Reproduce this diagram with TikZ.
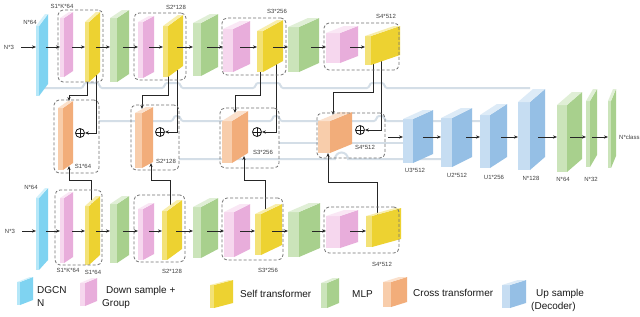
\documentclass[tikz,border=0pt]{standalone}
\usepackage{fontspec}
\setmainfont{Liberation Sans}
\usetikzlibrary{arrows.meta}
\definecolor{cyaL}{HTML}{B5E7F8}\definecolor{cyaM}{HTML}{7FD3F1}
\definecolor{pnkL}{HTML}{F6D7EE}\definecolor{pnkM}{HTML}{E8ADDB}
\definecolor{yelL}{HTML}{F3E277}\definecolor{yelM}{HTML}{EDD231}
\definecolor{grnL}{HTML}{CBE4BA}\definecolor{grnM}{HTML}{A8D08D}
\definecolor{orgL}{HTML}{F8CDAB}\definecolor{orgM}{HTML}{F2AD7A}
\definecolor{bluL}{HTML}{C6DDF2}\definecolor{bluM}{HTML}{95BFE5}
\colorlet{cyaT}{cyaL!60!white}\colorlet{pnkT}{pnkL!60!white}
\colorlet{yelT}{yelL!60!white}\colorlet{grnT}{grnL!60!white}
\colorlet{orgT}{orgL!60!white}\colorlet{bluT}{bluL!60!white}
\definecolor{skipc}{HTML}{D4DEE7}
% name, x0, front width, depth, rise, top y, bottom y, colour family
\newcommand{\blk}[8]{%
  \fill[#8L] (#2,#6) rectangle (#2+#3,#7);
  \fill[#8M] (#2+#3,#6) -- (#2+#3+#4,#6-#5) -- (#2+#3+#4,#7-#5) -- (#2+#3,#7) -- cycle;
  \fill[#8T] (#2,#6) -- (#2+#4,#6-#5) -- (#2+#3+#4,#6-#5) -- (#2+#3,#6) -- cycle;
  \node[inner sep=0pt,outer sep=0pt,minimum width={(#3+#4)*1pt},minimum height={(#7-#6+#5)*1pt},anchor=north west] (#1) at (#2,#6-#5) {};}
\newcommand{\dbx}[5]{\node[dbox,minimum width={(#4-#2)*1pt},minimum height={(#5-#3)*1pt},anchor=north west] (#1) at (#2,#3) {};}
\newcommand{\harr}[4]{\draw[arr,shorten <=-#3pt] (#1.east |- #4) -- (#2.west |- #4);}
\tikzset{
  arr/.style={draw=black!85,line width=0.8pt,-{Stealth[length=4pt,width=3.2pt]}},
  skipln/.style={draw=skipc,line width=2pt},
  dbox/.style={draw=black!55,dash pattern=on 3pt off 2pt,line width=0.8pt,rounded corners=5pt,inner sep=0pt,outer sep=0pt},
  lbl/.style={font=\fontsize{6}{7}\selectfont,text=black!75,inner sep=0pt},
  leg/.style={font=\fontsize{10}{12}\selectfont,text=black!90,inner sep=0pt,anchor=west},
  oplus/.style={circle,draw=black!90,line width=0.8pt,minimum size=9pt,inner sep=0pt,
    path picture={\draw[line width=0.8pt] (path picture bounding box.north) -- (path picture bounding box.south) (path picture bounding box.west) -- (path picture bounding box.east);}}
}
\begin{document}
\begin{tikzpicture}[x=1pt,y=-1pt]
\useasboundingbox (0,0) rectangle (640,316);
\fill[white] (0,0) rectangle (640,316);
\coordinate (r1) at (0,47);
\coordinate (r2) at (0,231);
\coordinate (r3) at (0,137);
% skip connections (grey)
\draw[skipln] (44,88) -- (81,88) to[out=0,in=180] (86,83) -- (97,83) to[out=0,in=180] (102,88)
  -- (162,88) to[out=0,in=180] (167,83) -- (178,83) to[out=0,in=180] (183,88)
  -- (253,88) to[out=0,in=180] (258,83) -- (278,83) to[out=0,in=180] (283,88)
  -- (367,88) to[out=0,in=180] (372,83) -- (382,83) to[out=0,in=180] (387,88) -- (530,88);
\draw[skipln] (99,121) -- (171,121) to[out=0,in=180] (176,116) -- (178,116) to[out=0,in=180] (183,121)
  -- (270,121) to[out=0,in=180] (275,116) -- (277,116) to[out=0,in=180] (282,121)
  -- (374,121) to[out=0,in=180] (379,116) -- (382,116) to[out=0,in=180] (387,121) -- (481,121);
\draw[skipln] (279,143) -- (404,143);
\draw[skipln] (179,159) -- (335,159) arc[start angle=180,end angle=0,radius=6.5pt] -- (441,159);
% connectors to cross transformer
\coordinate (a1s) at (87,78);  \coordinate (a1t) at (69,101);
\coordinate (b1s) at (96,74);  \coordinate (c1s) at (91,205);  \coordinate (c1t) at (69,166);
\coordinate (a2s) at (168,75); \coordinate (a2t) at (142,109);
\coordinate (b2s) at (177,69); \coordinate (c2s) at (170,207); \coordinate (c2t) at (151,163);
\coordinate (a3s) at (260,70); \coordinate (a3t) at (235,113);
\coordinate (b3s) at (276,63); \coordinate (c3s) at (265,211); \coordinate (c3t) at (244,156);
\coordinate (a4s) at (373,62); \coordinate (a4t) at (333,115);
\coordinate (b4s) at (381,60); \coordinate (c4s) at (377,215); \coordinate (c4t) at (328,153);
\node[oplus] (P1) at (80,133) {};
\node[oplus] (P2) at (160,132) {};
\node[oplus] (P3) at (257,132) {};
\node[oplus] (P4) at (360,130) {};
\draw[arr] (a1s) -- ++(0,17) -| (a1t);
\draw[arr] (b1s) |- (P1.east);
\draw[arr] (c1s) -- ++(0,-25) -| (c1t);
\draw[arr] (a2s) -- ++(0,20) -| (a2t);
\draw[arr] (b2s) |- (P2.east);
\draw[arr] (c2s) -- ++(0,-27) -| (c2t);
\draw[arr] (a3s) -- ++(0,25) -| (a3t);
\draw[arr] (b3s) |- (P3.east);
\draw[arr] (c3s) -- ++(0,-31) -| (c3t);
\draw[arr] (a4s) -- ++(0,30) -| (a4t);
\draw[arr] (b4s) |- (P4.east);
\draw[arr] (c4s) -- ++(0,-33) -| (c4t);
% top row blocks
\blk{D1}{36}{3}{9}{12}{26}{96}{cya}
\blk{P1b}{60}{4}{9}{6}{18}{77}{pnk}
\blk{Y1}{85}{4}{11}{10}{22}{82}{yel}
\blk{G1}{110}{7}{12}{8}{18}{82}{grn}
\blk{P2b}{138}{5}{11}{6}{22}{78}{pnk}
\blk{Y2}{163}{5}{15}{11}{26}{77}{yel}
\blk{G2}{193}{8}{17}{9}{23}{76}{grn}
\blk{P3b}{223}{10}{17}{8}{29}{72}{pnk}
\blk{Y3}{257}{6}{20}{11}{31}{72}{yel}
\blk{G3}{288}{11}{20}{9}{27}{72}{grn}
\blk{P4b}{326}{14}{18}{7}{33}{63}{pnk}
\blk{Y4}{365}{6}{29}{10}{36}{65}{yel}
% bottom row blocks
\blk{D2}{36}{3}{9}{10}{198}{270}{cya}
\blk{Q1}{60}{4}{9}{6}{198}{263}{pnk}
\blk{Z1}{85}{4}{11}{10}{206}{265}{yel}
\blk{H1}{110}{7}{12}{8}{204}{263}{grn}
\blk{Q2}{138}{5}{11}{6}{209}{260}{pnk}
\blk{Z2}{162}{5}{15}{11}{211}{260}{yel}
\blk{H2}{193}{8}{17}{9}{207}{258}{grn}
\blk{Q3}{224}{10}{16}{8}{212}{257}{pnk}
\blk{Z3}{255}{6}{21}{10}{214}{255}{yel}
\blk{H3}{288}{11}{21}{9}{212}{257}{grn}
\blk{Q4}{326}{14}{18}{6}{216}{248}{pnk}
\blk{Z4}{366}{6}{29}{8}{216}{247}{yel}
% cross transformers
\blk{O1}{58}{5}{10}{7}{108}{170}{org}
\blk{O2}{135}{7}{11}{6}{113}{168}{org}
\blk{O3}{222}{10}{16}{10}{121}{163}{org}
\blk{O4}{318}{12}{22}{9}{121}{153}{org}
% decoder
\blk{U3}{403}{10}{20}{9}{119}{163}{blu}
\blk{U2}{441}{11}{20}{10}{118}{167}{blu}
\blk{U1}{480}{10}{17}{11}{115}{168}{blu}
\blk{U0}{518}{12}{15}{13}{102}{170}{blu}
\blk{K1}{557}{10}{15}{13}{105}{172}{grn}
\blk{K2}{586}{4}{7}{12}{101}{167}{grn}
\blk{K3}{608}{3}{5}{12}{101}{168}{grn}
% legend blocks
\blk{L1}{17}{3}{13}{5}{282}{305}{cya}
\blk{L2}{80}{5}{12}{5}{283}{306}{pnk}
\blk{L3}{210}{4}{19}{5}{285}{308}{yel}
\blk{L4}{321}{6}{12}{5}{283}{308}{grn}
\blk{L5}{383}{8}{16}{5}{282}{307}{org}
\blk{L6}{502}{8}{16}{5}{285}{308}{blu}
% dashed boxes
\dbx{T1}{58}{10}{103}{82}
\dbx{T2}{134}{13}{186}{80}
\dbx{T3}{222}{18}{286}{75}
\dbx{T4}{324}{23}{399}{70}
\dbx{X1}{54}{100}{99}{173}
\dbx{X2}{131}{105}{179}{170}
\dbx{X3}{220}{108}{279}{168}
\dbx{X4}{317}{113}{385}{158}
\dbx{B1}{55}{190}{102}{265}
\dbx{B2}{134}{195}{185}{262}
\dbx{B3}{222}{198}{283}{260}
\dbx{B4}{324}{207}{399}{253}
% labels
\node[lbl] (n3a) at (9,47) {N*3};
\node[lbl] (n3b) at (10,231) {N*3};
\node[lbl] at (30,22) {N*64};
\node[lbl] at (62,6) {S1*K*64};
\node[lbl] at (176,7) {S2*128};
\node[lbl] at (277,11) {S3*256};
\node[lbl] at (386,16) {S4*512};
\node[lbl] at (83,166) {S1*64};
\node[lbl] at (166,161) {S2*128};
\node[lbl] at (263,152) {S3*256};
\node[lbl] at (365,147) {S4*512};
\node[lbl] at (415,170) {U3*512};
\node[lbl] at (457,175) {U2*512};
\node[lbl] at (494,177) {U1*256};
\node[lbl] at (531,178) {N*128};
\node[lbl] at (563,179) {N*64};
\node[lbl] at (591,179) {N*32};
\node[lbl,anchor=west] at (619,137) {N*class};
\node[lbl] at (31,187) {N*64};
\node[lbl] at (68,270) {S1*K*64};
\node[lbl] at (93,272) {S1*64};
\node[lbl] at (172,271) {S2*128};
\node[lbl] at (268,270) {S3*256};
\node[lbl] at (382,264) {S4*512};
% horizontal arrows
\draw[arr,shorten <=7pt] (n3a.east) -- (D1.west |- n3a.east);
\draw[arr,shorten <=7pt] (n3b.east) -- (D2.west |- n3b.east);
\harr{D1}{P1b}{2}{r1}\harr{P1b}{Y1}{1}{r1}\harr{Y1}{G1}{4}{r1}\harr{G1}{P2b}{6}{r1}
\harr{P2b}{Y2}{5}{r1}\harr{Y2}{G2}{6}{r1}\harr{G2}{P3b}{11}{r1}\harr{P3b}{Y3}{10}{r1}
\harr{Y3}{G3}{10}{r1}\harr{G3}{P4b}{8}{r1}\harr{P4b}{Y4}{8}{r1}
\harr{D2}{Q1}{2}{r2}\harr{Q1}{Z1}{1}{r2}\harr{Z1}{H1}{4}{r2}\harr{H1}{Q2}{6}{r2}
\harr{Q2}{Z2}{5}{r2}\harr{Z2}{H2}{6}{r2}\harr{H2}{Q3}{11}{r2}\harr{Q3}{Z3}{10}{r2}
\harr{Z3}{H3}{10}{r2}\harr{H3}{Q4}{8}{r2}\harr{Q4}{Z4}{8}{r2}
\draw[arr,shorten <=3pt] (X4.east |- r3) -- (U3.west |- r3);
\harr{U3}{U2}{10}{r3}\harr{U2}{U1}{6}{r3}\harr{U1}{U0}{6}{r3}\harr{U0}{K1}{7}{r3}
\harr{K1}{K2}{12}{r3}\harr{K2}{K3}{5}{r3}
% legend text
\node[leg] at (37,290) {DGCN};
\node[leg] at (37,303) {N};
\node[leg] at (106,291) {Down sample +};
\node[leg] at (102,304) {Group};
\node[leg] at (240,294) {Self transformer};
\node[leg] at (352,294) {MLP};
\node[leg] at (413,293) {Cross transformer};
\node[leg] at (536,294) {Up sample};
\node[leg] at (531,307) {(Decoder)};
\end{tikzpicture}
\end{document}
